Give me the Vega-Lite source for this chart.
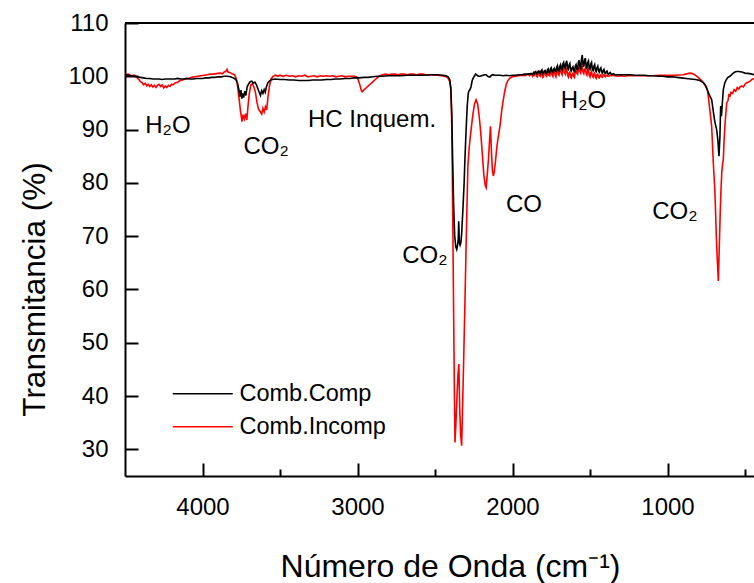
{
 "$schema": "https://vega.github.io/schema/vega-lite/v6.json",
 "width": 629,
 "height": 453,
 "autosize": {"type": "none"},
 "padding": {"left": 125, "top": 23, "right": 0, "bottom": 107},
 "config": {"view": {"stroke": null}, "font": "Liberation Sans"},
 "datasets": {
  "labels": [
   {"w": 4223, "t": 90.6, "label": "H₂O"},
   {"w": 3590, "t": 86.8, "label": "CO₂"},
   {"w": 2906, "t": 91.8, "label": "HC Inquem."},
   {"w": 2565, "t": 66.3, "label": "CO₂"},
   {"w": 1926, "t": 75.8, "label": "CO"},
   {"w": 1542, "t": 95.4, "label": "H₂O"},
   {"w": 952, "t": 74.6, "label": "CO₂"}
  ],
  "red": [
   {"w":4500,"t":100.3},{"w":4480,"t":100.4},{"w":4460,"t":100.1},{"w":4440,"t":100.2},{"w":4425,"t":99.8},{"w":4410,"t":99.4},{"w":4400,"t":99.0},{"w":4390,"t":98.8},{"w":4380,"t":98.4},{"w":4370,"t":98.7},{"w":4360,"t":98.2},{"w":4350,"t":98.5},{"w":4340,"t":98.1},{"w":4330,"t":98.4},{"w":4320,"t":98.0},{"w":4310,"t":98.3},{"w":4300,"t":97.9},{"w":4290,"t":98.3},{"w":4280,"t":98.5},{"w":4270,"t":98.1},{"w":4260,"t":98.4},{"w":4250,"t":97.8},{"w":4240,"t":98.2},{"w":4230,"t":97.9},{"w":4220,"t":98.3},{"w":4210,"t":98.1},{"w":4200,"t":98.5},{"w":4190,"t":98.4},{"w":4175,"t":98.8},{"w":4160,"t":98.9},{"w":4145,"t":99.2},{"w":4130,"t":99.3},{"w":4110,"t":99.5},{"w":4090,"t":99.6},{"w":4070,"t":99.8},{"w":4050,"t":99.9},{"w":4030,"t":100.0},{"w":4010,"t":100.1},{"w":3990,"t":100.2},{"w":3970,"t":100.3},{"w":3950,"t":100.4},{"w":3930,"t":100.4},{"w":3910,"t":100.5},{"w":3890,"t":100.6},{"w":3870,"t":100.5},{"w":3860,"t":100.8},{"w":3850,"t":100.9},{"w":3842,"t":101.3},{"w":3835,"t":100.8},{"w":3825,"t":100.7},{"w":3810,"t":100.5},{"w":3795,"t":100.3},{"w":3785,"t":99.8},{"w":3775,"t":98.5},{"w":3765,"t":96.0},{"w":3755,"t":93.5},{"w":3745,"t":91.5},{"w":3738,"t":92.8},{"w":3730,"t":92.0},{"w":3722,"t":93.0},{"w":3714,"t":91.8},{"w":3706,"t":94.5},{"w":3698,"t":96.8},{"w":3688,"t":98.4},{"w":3678,"t":98.6},{"w":3668,"t":98.0},{"w":3658,"t":96.9},{"w":3648,"t":95.0},{"w":3638,"t":93.8},{"w":3628,"t":93.4},{"w":3618,"t":92.9},{"w":3610,"t":94.0},{"w":3602,"t":93.3},{"w":3594,"t":94.3},{"w":3586,"t":93.7},{"w":3578,"t":96.0},{"w":3568,"t":98.2},{"w":3558,"t":99.5},{"w":3545,"t":100.0},{"w":3530,"t":100.2},{"w":3515,"t":100.0},{"w":3500,"t":100.2},{"w":3480,"t":100.0},{"w":3460,"t":100.2},{"w":3440,"t":100.0},{"w":3420,"t":100.1},{"w":3400,"t":99.9},{"w":3380,"t":100.1},{"w":3360,"t":100.0},{"w":3340,"t":100.2},{"w":3320,"t":99.9},{"w":3300,"t":100.0},{"w":3280,"t":100.1},{"w":3260,"t":99.9},{"w":3240,"t":100.1},{"w":3220,"t":100.0},{"w":3200,"t":100.1},{"w":3180,"t":100.0},{"w":3160,"t":100.1},{"w":3140,"t":99.9},{"w":3120,"t":100.0},{"w":3100,"t":100.1},{"w":3080,"t":99.9},{"w":3060,"t":100.0},{"w":3040,"t":100.0},{"w":3020,"t":100.0},{"w":3005,"t":99.9},{"w":2995,"t":99.3},{"w":2985,"t":98.4},{"w":2975,"t":97.3},{"w":2970,"t":97.1},{"w":2960,"t":97.4},{"w":2945,"t":97.8},{"w":2930,"t":98.2},{"w":2915,"t":98.6},{"w":2900,"t":99.0},{"w":2885,"t":99.4},{"w":2870,"t":99.8},{"w":2855,"t":100.1},{"w":2840,"t":100.3},{"w":2820,"t":100.4},{"w":2800,"t":100.3},{"w":2780,"t":100.4},{"w":2760,"t":100.4},{"w":2740,"t":100.3},{"w":2720,"t":100.4},{"w":2700,"t":100.4},{"w":2680,"t":100.3},{"w":2660,"t":100.4},{"w":2640,"t":100.4},{"w":2620,"t":100.3},{"w":2600,"t":100.4},{"w":2580,"t":100.4},{"w":2560,"t":100.3},{"w":2540,"t":100.3},{"w":2520,"t":100.3},{"w":2500,"t":100.2},{"w":2480,"t":100.2},{"w":2460,"t":100.1},{"w":2440,"t":100.0},{"w":2425,"t":99.9},{"w":2415,"t":99.6},{"w":2405,"t":99.0},{"w":2398,"t":97.5},{"w":2394,"t":94},{"w":2390,"t":88},{"w":2385,"t":72},{"w":2380,"t":56},{"w":2375,"t":41},{"w":2371,"t":31.3},{"w":2365,"t":35},{"w":2358,"t":40},{"w":2352,"t":44},{"w":2346,"t":46},{"w":2341,"t":38},{"w":2335,"t":33},{"w":2328,"t":30.7},{"w":2318,"t":43},{"w":2308,"t":56},{"w":2298,"t":70},{"w":2288,"t":83},{"w":2280,"t":86.5},{"w":2273,"t":88.5},{"w":2265,"t":90.5},{"w":2255,"t":93.0},{"w":2245,"t":94.8},{"w":2235,"t":95.6},{"w":2225,"t":94.8},{"w":2215,"t":92.5},{"w":2205,"t":89.5},{"w":2195,"t":85.5},{"w":2185,"t":81.5},{"w":2175,"t":79.4},{"w":2170,"t":79.1},{"w":2163,"t":81.5},{"w":2155,"t":84.5},{"w":2148,"t":88.0},{"w":2142,"t":90.6},{"w":2137,"t":86.5},{"w":2130,"t":82.5},{"w":2124,"t":81.3},{"w":2118,"t":82.0},{"w":2110,"t":84.0},{"w":2100,"t":87.0},{"w":2090,"t":89.0},{"w":2080,"t":90.8},{"w":2070,"t":93.5},{"w":2060,"t":95.5},{"w":2050,"t":97.2},{"w":2040,"t":98.5},{"w":2030,"t":99.2},{"w":2016,"t":99.7},{"w":2000,"t":99.9},{"w":1980,"t":100.0},{"w":1960,"t":100.1},{"w":1940,"t":100.2},{"w":1920,"t":100.1},{"w":1900,"t":100.4},{"w":1890,"t":100.1},{"w":1880,"t":100.5},{"w":1870,"t":100.0},
   {"w":1864,"t":100.3},{"w":1860,"t":100.2},{"w":1855,"t":100.7},{"w":1850,"t":100.6},{"w":1845,"t":100.0},{"w":1840,"t":99.9},{"w":1835,"t":100.8},{"w":1830,"t":100.7},{"w":1825,"t":100.1},{"w":1820,"t":100.0},{"w":1815,"t":100.9},{"w":1810,"t":100.8},{"w":1805,"t":99.8},{"w":1800,"t":99.9},{"w":1795,"t":100.7},{"w":1790,"t":100.9},{"w":1785,"t":100.2},{"w":1780,"t":100.0},{"w":1775,"t":100.8},{"w":1770,"t":101.0},{"w":1765,"t":100.2},{"w":1760,"t":100.1},{"w":1755,"t":101.0},{"w":1750,"t":101.2},{"w":1745,"t":100.3},{"w":1740,"t":100.0},{"w":1735,"t":100.9},{"w":1730,"t":101.0},{"w":1725,"t":100.2},{"w":1720,"t":99.9},{"w":1715,"t":101.0},{"w":1710,"t":101.3},{"w":1705,"t":100.4},{"w":1700,"t":100.2},{"w":1695,"t":101.2},{"w":1690,"t":101.5},{"w":1685,"t":100.6},{"w":1680,"t":100.3},{"w":1675,"t":101.4},{"w":1670,"t":101.7},{"w":1665,"t":100.7},{"w":1660,"t":100.4},{"w":1655,"t":101.2},{"w":1650,"t":101.4},{"w":1645,"t":100.3},{"w":1640,"t":99.9},{"w":1635,"t":100.6},{"w":1630,"t":100.8},{"w":1625,"t":99.9},{"w":1620,"t":99.7},{"w":1615,"t":100.4},{"w":1610,"t":100.6},{"w":1605,"t":100.0},{"w":1600,"t":99.8},{"w":1595,"t":100.9},{"w":1590,"t":101.2},{"w":1585,"t":100.6},{"w":1580,"t":100.4},{"w":1575,"t":101.3},{"w":1570,"t":101.6},{"w":1565,"t":100.9},{"w":1560,"t":100.6},{"w":1555,"t":101.6},{"w":1550,"t":101.9},{"w":1545,"t":100.8},{"w":1540,"t":100.5},{"w":1535,"t":101.3},{"w":1530,"t":101.5},{"w":1525,"t":100.5},{"w":1520,"t":100.2},{"w":1515,"t":101.1},{"w":1510,"t":101.3},{"w":1505,"t":100.2},{"w":1500,"t":99.9},{"w":1495,"t":100.7},{"w":1490,"t":100.9},{"w":1485,"t":100.0},{"w":1480,"t":99.8},{"w":1475,"t":100.4},{"w":1470,"t":100.6},{"w":1465,"t":99.8},{"w":1460,"t":99.6},{"w":1455,"t":100.3},{"w":1450,"t":100.4},{"w":1445,"t":99.8},{"w":1440,"t":99.7},{"w":1435,"t":100.2},{"w":1430,"t":100.3},{"w":1425,"t":99.9},{"w":1420,"t":99.8},{"w":1415,"t":100.2},{"w":1410,"t":100.3},{"w":1405,"t":100.0},{"w":1400,"t":99.9},{"w":1395,"t":100.2},{"w":1390,"t":100.2},{"w":1385,"t":100.0},{"w":1380,"t":100.0},{"w":1370,"t":100.2},{"w":1360,"t":100.1},{"w":1350,"t":100.2},{"w":1340,"t":100.1},
   {"w":1320,"t":100.0},{"w":1300,"t":100.1},{"w":1280,"t":100.0},{"w":1260,"t":100.1},{"w":1240,"t":100.1},{"w":1220,"t":100.1},{"w":1200,"t":100.1},{"w":1150,"t":100.1},{"w":1100,"t":100.1},{"w":1050,"t":100.2},{"w":1000,"t":100.2},{"w":950,"t":100.2},{"w":900,"t":100.3},{"w":870,"t":100.5},{"w":855,"t":100.6},{"w":840,"t":100.5},{"w":825,"t":100.3},{"w":810,"t":100.0},{"w":795,"t":99.6},{"w":780,"t":99.2},{"w":765,"t":98.7},{"w":750,"t":98.1},{"w":740,"t":97.0},{"w":730,"t":94.5},{"w":715,"t":90.6},{"w":705,"t":84.0},{"w":694,"t":78.2},{"w":685,"t":70.0},{"w":678,"t":65.0},{"w":672,"t":61.6},{"w":668,"t":66},{"w":664,"t":70},{"w":661,"t":73.2},{"w":656,"t":78},{"w":650,"t":81.9},{"w":645,"t":83.5},{"w":640,"t":84.4},{"w":635,"t":88.0},{"w":628,"t":91.5},{"w":618,"t":95.0},{"w":610,"t":95.4},{"w":604,"t":96.5},{"w":597,"t":96.3},{"w":590,"t":97.0},{"w":580,"t":96.8},{"w":570,"t":97.5},{"w":560,"t":97.2},{"w":550,"t":97.9},{"w":540,"t":97.6},{"w":532,"t":98.0},{"w":520,"t":98.2},{"w":510,"t":98.0},{"w":500,"t":98.5},{"w":490,"t":98.8},{"w":480,"t":98.9},{"w":468,"t":99.1},{"w":455,"t":99.4},{"w":442,"t":99.6}
  ],
  "black": [
   {"w":4500,"t":100.3},{"w":4480,"t":100.2},{"w":4460,"t":100.1},{"w":4440,"t":100.0},{"w":4420,"t":99.9},{"w":4400,"t":99.8},{"w":4380,"t":99.7},{"w":4360,"t":99.6},{"w":4340,"t":99.6},{"w":4320,"t":99.5},{"w":4300,"t":99.5},{"w":4280,"t":99.5},{"w":4260,"t":99.4},{"w":4240,"t":99.5},{"w":4220,"t":99.5},{"w":4200,"t":99.5},{"w":4180,"t":99.5},{"w":4160,"t":99.6},{"w":4140,"t":99.5},{"w":4120,"t":99.5},{"w":4100,"t":99.6},{"w":4080,"t":99.5},{"w":4060,"t":99.5},{"w":4040,"t":99.6},{"w":4020,"t":99.6},{"w":4000,"t":99.6},{"w":3980,"t":99.7},{"w":3960,"t":99.7},{"w":3940,"t":99.8},{"w":3920,"t":99.8},{"w":3900,"t":99.9},{"w":3880,"t":99.9},{"w":3860,"t":100.0},{"w":3840,"t":100.0},{"w":3820,"t":99.9},{"w":3800,"t":99.7},{"w":3785,"t":99.4},{"w":3775,"t":98.8},{"w":3765,"t":97.5},{"w":3758,"t":96.2},{"w":3752,"t":97.4},{"w":3746,"t":95.8},{"w":3740,"t":96.8},{"w":3734,"t":96.0},{"w":3727,"t":97.2},{"w":3720,"t":96.4},{"w":3712,"t":98.0},{"w":3702,"t":98.6},{"w":3692,"t":99.0},{"w":3682,"t":99.1},{"w":3672,"t":98.7},{"w":3662,"t":98.9},{"w":3652,"t":98.4},{"w":3642,"t":97.6},{"w":3634,"t":97.0},{"w":3626,"t":96.4},{"w":3618,"t":97.3},{"w":3610,"t":96.8},{"w":3602,"t":97.5},{"w":3595,"t":97.0},{"w":3588,"t":98.0},{"w":3578,"t":98.8},{"w":3565,"t":99.2},{"w":3550,"t":99.4},{"w":3530,"t":99.5},{"w":3500,"t":99.4},{"w":3470,"t":99.4},{"w":3440,"t":99.3},{"w":3410,"t":99.3},{"w":3380,"t":99.2},{"w":3350,"t":99.2},{"w":3320,"t":99.2},{"w":3290,"t":99.3},{"w":3260,"t":99.3},{"w":3230,"t":99.3},{"w":3200,"t":99.4},{"w":3170,"t":99.4},{"w":3140,"t":99.5},{"w":3110,"t":99.5},{"w":3080,"t":99.6},{"w":3050,"t":99.6},{"w":3020,"t":99.7},{"w":2990,"t":99.7},{"w":2960,"t":99.8},{"w":2930,"t":99.8},{"w":2900,"t":99.9},{"w":2870,"t":100.0},{"w":2840,"t":100.0},{"w":2800,"t":100.1},{"w":2760,"t":100.1},{"w":2720,"t":100.1},{"w":2680,"t":100.2},{"w":2640,"t":100.2},{"w":2600,"t":100.2},{"w":2560,"t":100.2},{"w":2520,"t":100.3},{"w":2480,"t":100.3},{"w":2450,"t":100.2},{"w":2430,"t":100.1},{"w":2415,"t":99.9},{"w":2405,"t":99.4},{"w":2398,"t":97.8},{"w":2392,"t":93},{"w":2386,"t":84},{"w":2380,"t":76},{"w":2373,"t":70},{"w":2366,"t":68},{"w":2360,"t":67.5},{"w":2355,"t":68.2},{"w":2350,"t":69.5},{"w":2347,"t":72.8},{"w":2343,"t":68.8},{"w":2338,"t":68.3},{"w":2333,"t":68.8},{"w":2328,"t":70.5},{"w":2320,"t":75},{"w":2312,"t":80},{"w":2307,"t":84.4},{"w":2300,"t":89.5},{"w":2292,"t":94.5},{"w":2285,"t":96.9},{"w":2280,"t":97.3},{"w":2274,"t":97.5},{"w":2268,"t":98.0},{"w":2260,"t":99.2},{"w":2253,"t":99.7},{"w":2245,"t":100.1},{"w":2238,"t":100.4},{"w":2232,"t":100.3},{"w":2225,"t":100.1},{"w":2218,"t":100.0},{"w":2210,"t":100.0},{"w":2200,"t":100.1},{"w":2190,"t":100.2},{"w":2180,"t":100.3},{"w":2170,"t":100.3},{"w":2160,"t":100.0},{"w":2150,"t":99.9},{"w":2145,"t":99.9},{"w":2135,"t":100.2},{"w":2126,"t":100.3},{"w":2115,"t":100.2},{"w":2102,"t":100.2},{"w":2080,"t":100.2},{"w":2060,"t":100.1},{"w":2040,"t":100.2},{"w":2020,"t":100.1},{"w":2000,"t":100.2},{"w":1980,"t":100.2},{"w":1960,"t":100.3},{"w":1940,"t":100.3},{"w":1920,"t":100.4},{"w":1900,"t":100.4},{"w":1880,"t":100.5},{"w":1870,"t":100.4},
   {"w":1864,"t":100.7},{"w":1860,"t":100.5},{"w":1855,"t":100.8},{"w":1850,"t":100.9},{"w":1845,"t":100.5},{"w":1840,"t":100.4},{"w":1835,"t":100.9},{"w":1830,"t":101.0},{"w":1825,"t":100.6},{"w":1820,"t":100.5},{"w":1815,"t":101.0},{"w":1810,"t":101.2},{"w":1805,"t":100.5},{"w":1800,"t":100.6},{"w":1795,"t":101.0},{"w":1790,"t":101.1},{"w":1785,"t":100.6},{"w":1780,"t":100.5},{"w":1775,"t":101.2},{"w":1770,"t":101.4},{"w":1765,"t":100.8},{"w":1760,"t":100.7},{"w":1755,"t":101.4},{"w":1750,"t":101.6},{"w":1745,"t":100.9},{"w":1740,"t":100.8},{"w":1735,"t":101.3},{"w":1730,"t":101.5},{"w":1725,"t":101.0},{"w":1720,"t":100.9},{"w":1715,"t":101.7},{"w":1710,"t":102.0},{"w":1705,"t":101.1},{"w":1700,"t":101.0},{"w":1695,"t":101.9},{"w":1690,"t":102.2},{"w":1685,"t":101.4},{"w":1680,"t":101.2},{"w":1675,"t":102.3},{"w":1670,"t":102.6},{"w":1665,"t":101.7},{"w":1660,"t":101.5},{"w":1655,"t":102.5},{"w":1650,"t":102.9},{"w":1645,"t":101.5},{"w":1640,"t":101.3},{"w":1635,"t":102.1},{"w":1630,"t":102.4},{"w":1625,"t":101.2},{"w":1620,"t":101.0},{"w":1615,"t":101.6},{"w":1610,"t":101.8},{"w":1605,"t":101.1},{"w":1600,"t":100.9},{"w":1595,"t":101.9},{"w":1590,"t":102.2},{"w":1585,"t":101.4},{"w":1580,"t":101.2},{"w":1575,"t":102.6},{"w":1570,"t":103.0},{"w":1565,"t":101.8},{"w":1560,"t":101.5},{"w":1555,"t":103.2},{"w":1550,"t":104.0},{"w":1545,"t":102.2},{"w":1540,"t":101.8},{"w":1535,"t":103.0},{"w":1530,"t":103.4},{"w":1525,"t":101.8},{"w":1520,"t":101.5},{"w":1515,"t":102.6},{"w":1510,"t":102.9},{"w":1505,"t":101.5},{"w":1500,"t":101.3},{"w":1495,"t":102.3},{"w":1490,"t":102.6},{"w":1485,"t":101.3},{"w":1480,"t":101.1},{"w":1475,"t":101.9},{"w":1470,"t":102.2},{"w":1465,"t":101.1},{"w":1460,"t":100.9},{"w":1455,"t":101.6},{"w":1450,"t":101.9},{"w":1445,"t":101.0},{"w":1440,"t":100.8},{"w":1435,"t":101.4},{"w":1430,"t":101.6},{"w":1425,"t":100.8},{"w":1420,"t":100.6},{"w":1415,"t":101.1},{"w":1410,"t":101.3},{"w":1405,"t":100.6},{"w":1400,"t":100.5},{"w":1395,"t":100.9},{"w":1390,"t":101.0},{"w":1385,"t":100.5},{"w":1380,"t":100.4},{"w":1370,"t":100.7},{"w":1360,"t":100.3},{"w":1350,"t":100.5},{"w":1340,"t":100.3},
   {"w":1320,"t":100.3},{"w":1300,"t":100.3},{"w":1270,"t":100.3},{"w":1240,"t":100.3},{"w":1210,"t":100.2},{"w":1180,"t":100.2},{"w":1150,"t":100.2},{"w":1120,"t":100.1},{"w":1090,"t":100.1},{"w":1060,"t":100.0},{"w":1030,"t":100.0},{"w":1000,"t":99.9},{"w":970,"t":99.9},{"w":940,"t":99.8},{"w":910,"t":99.7},{"w":880,"t":99.6},{"w":850,"t":99.5},{"w":820,"t":99.4},{"w":790,"t":99.2},{"w":770,"t":98.8},{"w":758,"t":98.4},{"w":745,"t":97.6},{"w":730,"t":96.5},{"w":715,"t":95.6},{"w":705,"t":93.5},{"w":695,"t":91.5},{"w":683,"t":90.0},{"w":675,"t":88.0},{"w":668,"t":85.0},{"w":662,"t":88.5},{"w":657,"t":94.4},{"w":652,"t":92.5},{"w":645,"t":95.5},{"w":640,"t":97.5},{"w":630,"t":98.8},{"w":620,"t":99.4},{"w":610,"t":99.8},{"w":597,"t":100.0},{"w":580,"t":100.5},{"w":565,"t":100.8},{"w":554,"t":100.9},{"w":540,"t":100.9},{"w":520,"t":100.8},{"w":500,"t":100.6},{"w":470,"t":100.5},{"w":442,"t":100.3}
  ]
 },
 "layer": [
  {
   "data": {"values": [{}]},
   "mark": {"type": "rule", "strokeWidth": 2, "color": "black"},
   "encoding": {"y": {"datum": 110}}
  },
  {
   "data": {"name": "red"},
   "mark": {"type": "line", "strokeWidth": 1.6, "clip": true},
   "encoding": {
    "x": {"field": "w", "type": "quantitative"},
    "y": {"field": "t", "type": "quantitative"},
    "color": {"datum": "Comb.Incomp"}
   }
  },
  {
   "data": {"name": "black"},
   "mark": {"type": "line", "strokeWidth": 1.6, "clip": true},
   "encoding": {
    "x": {
     "field": "w", "type": "quantitative",
     "scale": {"domain": [442, 4500], "reverse": true, "nice": false, "zero": false},
     "axis": {
      "title": "Número de Onda (cm⁻¹)",
      "values": [4000, 3500, 3000, 2500, 2000, 1500, 1000, 500],
      "format": "d",
      "labelExpr": "datum.value % 1000 === 0 ? datum.label : ''",
      "tickSize": {"condition": {"test": "datum.value % 1000 === 0", "value": -13}, "value": -7},
      "tickWidth": 2, "tickColor": "black",
      "domainColor": "black", "domainWidth": 2,
      "labelFontSize": 24, "labelColor": "black", "labelPadding": 32,
      "titleFontSize": 32, "titleFontWeight": "normal", "titleColor": "black",
      "titleX": 325, "titleY": 100, "titleBaseline": "alphabetic",
      "grid": false
     }
    },
    "y": {
     "field": "t", "type": "quantitative",
     "scale": {"domain": [25, 110], "nice": false, "zero": false},
     "axis": {
      "title": "Transmitancia (%)",
      "values": [30, 35, 40, 45, 50, 55, 60, 65, 70, 75, 80, 85, 90, 95, 100, 105, 110],
      "labelExpr": "datum.value % 10 === 0 ? datum.label : ''",
      "tickSize": {"condition": {"test": "datum.value % 10 === 0", "value": -13}, "value": -7},
      "tickWidth": 2, "tickColor": "black",
      "domainColor": "black", "domainWidth": 2,
      "labelFontSize": 24, "labelColor": "black", "labelPadding": 30,
      "titleFontSize": 31.5, "titleFontWeight": "normal", "titleColor": "black",
      "titleX": -90, "titleY": 266, "titleAngle": -90, "titleAlign": "center", "titleBaseline": "middle",
      "grid": false
     }
    },
    "color": {
     "datum": "Comb.Comp",
     "scale": {"domain": ["Comb.Comp", "Comb.Incomp"], "range": ["black", "red"]},
     "legend": {
      "title": null, "orient": "none", "legendX": 66, "legendY": 359,
      "symbolType": "M-3,0H3", "symbolSize": 400, "symbolStrokeWidth": 1.6,
      "labelFontSize": 23.5, "labelColor": "black", "labelOffset": 25, "rowPadding": 8
     }
    }
   }
  },
  {
   "data": {"name": "labels"},
   "mark": {"type": "text", "fontSize": 24, "color": "black", "align": "center", "baseline": "middle"},
   "encoding": {
    "x": {"field": "w", "type": "quantitative"},
    "y": {"field": "t", "type": "quantitative"},
    "text": {"field": "label"}
   }
  }
 ]
}
